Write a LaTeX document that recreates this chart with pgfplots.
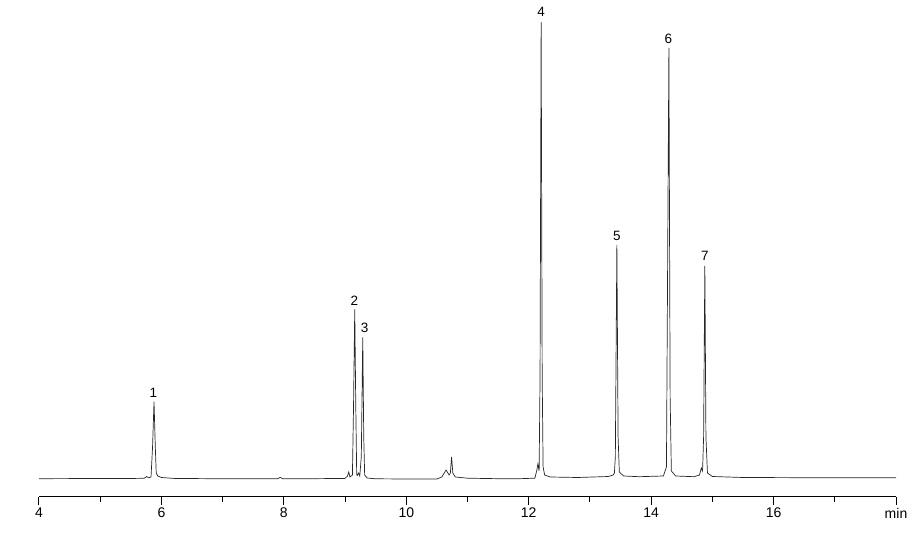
\documentclass[border=0pt]{standalone}
\usepackage{fontspec}
\setmainfont{Liberation Sans}
\usepackage{pgfplots}
\pgfplotsset{compat=1.18}
\begin{document}
\begin{tikzpicture}
\begin{axis}[name=ax,
  scale only axis, width=857pt, height=497pt,
  xmin=4, xmax=18, ymin=0, ymax=497,
  axis x line*=bottom, hide y axis,
  axis line style={line width=1pt, black},
  xtick={4,6,...,18}, minor xtick={5,7,...,17},
  xticklabels={4,6,8,10,12,14,16,min},
  tick align=outside,
  major tick length=8pt, minor tick length=5pt,
  every tick/.style={black, line width=1pt},
  xticklabel style={font=\fontsize{14}{16}\selectfont, inner sep=2pt, yshift=-1pt},
  clip=false,
]
\addplot[black!85, line width=0.7pt] coordinates {
(4.00,18.3) (5.00,18.5) (5.60,18.6) (5.72,18.8) (5.76,20.5) (5.79,19.2)
(5.83,20) (5.855,50) (5.879,95.3) (5.90,50) (5.915,24) (5.94,21)
(6.00,19.5) (6.20,18.6) (6.80,18.3) (7.50,18.2) (7.90,18.3) (7.94,19.6)
(7.98,18.3) (8.50,18.3) (9.00,18.6) (9.04,21) (9.06,25) (9.08,20)
(9.12,22) (9.138,90) (9.158,187.7) (9.175,90) (9.19,22) (9.20,21.5)
(9.22,24) (9.24,21) (9.265,40) (9.289,159.7) (9.305,60) (9.32,22)
(9.36,19) (9.50,18.2) (10.00,18.0) (10.50,18.0) (10.58,20) (10.65,27)
(10.70,22) (10.72,24) (10.74,40) (10.76,24) (10.80,20) (11.00,18.8)
(11.50,18.3) (11.80,18.2) (12.10,18.8) (12.13,26) (12.15,33) (12.17,26)
(12.185,120) (12.203,475) (12.22,120) (12.235,30) (12.26,22) (12.35,20)
(12.80,19.5) (13.30,20.5) (13.38,22) (13.40,24) (13.415,40) (13.44,252)
(13.46,60) (13.48,25) (13.55,21) (13.80,20.3) (14.20,21) (14.25,30)
(14.29,449) (14.31,100) (14.33,26) (14.40,21) (14.70,20.3) (14.79,22)
(14.82,29) (14.84,26) (14.857,60) (14.877,231) (14.895,60) (14.92,24)
(15.00,20.5) (15.50,19.5) (16.50,19.3) (18.00,19.3)
};
\begin{scope}[every node/.style={font=\fontsize{13.5}{15}\selectfont, inner sep=0pt}]
\node at (axis cs:5.868,103.7) {1};
\node at (axis cs:9.153,196.3) {2};
\node at (axis cs:9.32,169.3) {3};
\node at (axis cs:12.203,485) {4};
\node at (axis cs:13.44,261.3) {5};
\node at (axis cs:14.28,458) {6};
\node at (axis cs:14.877,241) {7};
\end{scope}
\end{axis}
\pgfresetboundingbox
\path[use as bounding box] ([shift={(-39pt,-37pt)}]ax.south west) rectangle ([shift={(21pt,0pt)}]ax.north east);
\end{tikzpicture}
\end{document}
